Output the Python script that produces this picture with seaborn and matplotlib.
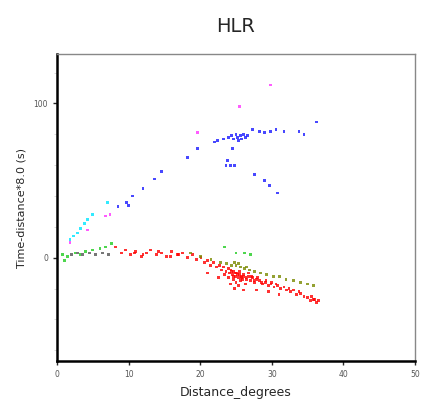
import numpy as np
import pandas as pd
import matplotlib
matplotlib.use('Agg')
import matplotlib.pyplot as plt
import seaborn as sns
from matplotlib.ticker import MultipleLocator

sns.set_style('white')
plt.rcParams['font.family'] = ['DejaVu Sans']

# 数据：近似值 (距离 / 折合走时)
red_x = [8.2, 9.0, 9.6, 10.3, 11.0, 11.8, 12.5, 13.1, 13.9, 14.6, 15.3, 16.0, 16.8, 17.5,
         18.2, 18.9, 19.5, 20.1, 20.6, 21.0, 21.4, 21.9, 22.3, 22.7, 23.0, 23.3, 23.6, 23.9,
         24.1, 24.3, 24.5, 24.7, 24.9, 25.1, 25.3, 25.5, 25.7, 25.9, 26.1, 26.4, 26.7, 27.0,
         27.3, 27.6, 27.9, 28.3, 28.7, 29.1, 29.5, 29.9, 30.3, 30.8, 31.2, 31.7, 32.1, 32.6,
         33.0, 33.5, 34.0, 34.5, 35.0, 35.4, 35.8, 36.2, 36.5, 21.0, 22.5, 24.2, 24.8, 25.4,
         26.0, 27.9, 29.5, 31.0, 24.6, 25.0, 25.6, 26.3, 23.4, 24.0,
         24.4, 24.6, 24.9, 25.2, 25.5, 25.8, 26.0, 26.5, 26.8, 27.2, 27.5, 28.0, 28.6,
         29.2, 30.0, 30.6, 32.4, 33.8, 35.6, 36.0, 10.8, 12.0, 14.2, 15.8, 17.0]
red_y = [7, 3, 5, 2, 4, 1, 3, 5, 2, 3, 1, 4, 2, 3,
         0, 2, -1, 0, -3, -2, -5, -3, -6, -5, -8, -6, -9, -7,
         -10, -8, -11, -9, -12, -10, -13, -11, -12, -14, -11, -13, -12, -15,
         -13, -16, -14, -15, -17, -16, -18, -17, -19, -18, -20, -19, -21, -22,
         -21, -24, -23, -25, -26, -28, -27, -29, -28, -10, -13, -17, -20, -18,
         -21, -21, -22, -24, -14, -16, -15, -17, -11, -13,
         -9, -12, -10, -11, -9, -13, -12, -14, -10, -12, -15, -13, -16,
         -15, -16, -17, -20, -22, -25, -27, 3, 2, 4, 1, 2]

olive_x = [18.6, 20.0, 21.5, 22.8, 23.7, 24.4, 25.0, 25.6, 26.2, 26.9, 27.6, 28.4,
           29.3, 30.2, 31.1, 32.0, 33.0, 34.0, 35.0, 35.8, 24.8, 25.3, 26.5]
olive_y = [3, 1, -1, -3, -4, -5, -5, -6, -7, -8, -9, -10,
           -11, -12, -12, -14, -15, -16, -17, -18, -3, -4, -6]

green_x = [0.8, 1.0, 1.5, 2.5, 3.2, 4.0, 5.0, 6.0, 6.8, 7.6, 23.4, 25.0, 26.2, 27.0]
green_y = [2, -2, 1, 3, 2, 4, 5, 6, 7, 9, 7, 3, 3, 2]

black_x = [2.0, 2.8, 3.6, 4.5, 5.4, 6.3, 7.2]
black_y = [2, 3, 2, 3, 2, 3, 2]

cyan_x = [1.8, 2.3, 2.8, 3.3, 3.8, 4.3, 5.0, 7.0]
cyan_y = [12, 14, 16, 19, 22, 25, 28, 36]

magenta_x = [1.8, 4.3, 6.8, 7.4, 19.6, 25.5, 29.8]
magenta_y = [10, 18, 27, 28, 81, 98, 112]

blue_x = [8.5, 9.7, 10.0, 10.5, 12.0, 13.6, 14.6, 18.2, 19.6, 22.0, 22.4, 23.3, 24.0,
          24.4, 24.7, 25.0, 25.2, 25.4, 25.6, 25.8, 26.0, 26.3, 26.6, 27.3, 28.3, 29.0,
          29.8, 30.6, 31.7, 33.8, 34.5, 36.2, 24.5, 23.8, 23.6, 24.2, 24.8, 27.6, 29.0,
          29.7, 30.8]
blue_y = [33, 36, 34, 40, 45, 51, 56, 65, 71, 75, 76, 77, 78,
          79, 77, 80, 78, 76, 79, 77, 80, 78, 79, 83, 82, 81,
          82, 83, 82, 82, 80, 88, 71, 63, 60, 60, 60, 54, 50,
          47, 42]

groups = {
    'red': (red_x, red_y),
    'olive': (olive_x, olive_y),
    'green': (green_x, green_y),
    'black': (black_x, black_y),
    'cyan': (cyan_x, cyan_y),
    'magenta': (magenta_x, magenta_y),
    'blue': (blue_x, blue_y),
}
palette = {'red': '#ff0000', 'olive': '#7a8a00', 'green': '#22cc22', 'black': '#555555',
           'cyan': '#00e5ff', 'magenta': '#ff33ff', 'blue': '#1a1aff'}

rows = []
for name, (xs, ys) in groups.items():
    for x, y in zip(xs, ys):
        rows.append({'dist': x, 'time': y, 'phase': name})
df = pd.DataFrame(rows)

fig = plt.figure(figsize=(4.26, 4.07), dpi=100)
ax = fig.add_axes([0.134, 0.113, 0.840, 0.754])

sns.scatterplot(data=df, x='dist', y='time', hue='phase', palette=palette,
                marker='s', s=4, linewidth=0, alpha=0.8, legend=False, ax=ax)

ax.set_xlim(0, 50)
ax.set_ylim(-67, 132)
ax.xaxis.set_major_locator(MultipleLocator(10))
ax.yaxis.set_major_locator(MultipleLocator(100))
ax.yaxis.set_minor_locator(MultipleLocator(20))
ax.tick_params(axis='both', which='major', direction='out', length=3, width=1,
               labelsize=5.5, labelcolor='#555555', bottom=True, left=True)
ax.tick_params(axis='y', which='minor', direction='out', length=2, width=0.5,
               color='#cccccc', left=True)

for side in ['left', 'bottom']:
    ax.spines[side].set_linewidth(1.8)
    ax.spines[side].set_color('black')
for side in ['top', 'right']:
    ax.spines[side].set_linewidth(1.0)
    ax.spines[side].set_color('#888888')

ax.set_xlabel('Distance_degrees', fontsize=9, labelpad=5)
ax.set_ylabel('Time-distance*8.0 (s)', fontsize=8, labelpad=5)
ax.set_title('HLR', fontsize=14, pad=16)

fig.savefig('out.png', dpi=100)
